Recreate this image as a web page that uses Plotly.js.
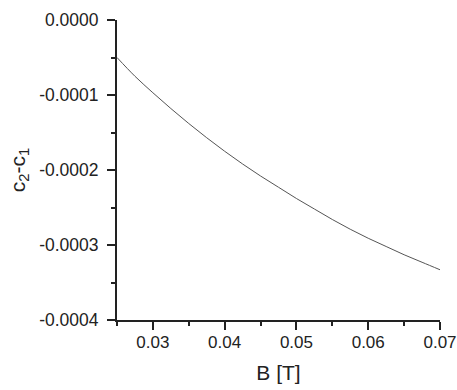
<!DOCTYPE html>
<html>
<head>
<meta charset="utf-8">
<script src="https://cdn.plot.ly/plotly-3.0.1.min.js"></script>
<style>html,body{margin:0;padding:0;background:#fff;}#chart{width:457px;height:390px;}</style>
</head>
<body>
<div id="chart"></div>
<script>
const bField = [0.025, 0.0275, 0.030, 0.0325, 0.035, 0.0375, 0.040, 0.0425, 0.045, 0.0475, 0.050, 0.0525, 0.055, 0.0575, 0.060, 0.0625, 0.065, 0.0675, 0.070];
const c2MinusC1 = [-0.000050, -0.000075, -0.000097, -0.000118, -0.000138, -0.000157, -0.000175, -0.000192, -0.000208, -0.000223, -0.000238, -0.000252, -0.000266, -0.000279, -0.000291, -0.000302, -0.000313, -0.000323, -0.000333];
const xTickVals = [0.03, 0.04, 0.05, 0.06, 0.07];
const xTickText = ["0.03", "0.04", "0.05", "0.06", "0.07"];
const yTickVals = [0, -0.0001, -0.0002, -0.0003, -0.0004];
const yTickText = ["0.0000", "-0.0001", "-0.0002", "-0.0003", "-0.0004"];

const font = "Liberation Sans, Arial, sans-serif";

Plotly.newPlot("chart", [{
  x: bField,
  y: c2MinusC1,
  mode: "lines",
  line: {color: "#555555", width: 1, shape: "spline"},
  showlegend: false,
  hoverinfo: "skip"
}], {
  width: 457, height: 390,
  margin: {l: 117, r: 17, t: 20, b: 70},
  paper_bgcolor: "#fff", plot_bgcolor: "#fff",
  font: {family: font, color: "#000"},
  xaxis: {
    range: [0.025, 0.07],
    tickvals: xTickVals, ticktext: xTickText,
    ticks: "outside", ticklen: 8, tickwidth: 2, tickcolor: "#222",
    minor: {dtick: 0.005, tick0: 0, ticks: "outside", ticklen: 4, tickwidth: 2, tickcolor: "#222", showgrid: false},
    showline: true, linewidth: 2, linecolor: "#222",
    showgrid: false, zeroline: false,
    ticklabelstandoff: -2,
    ticklabeloverflow: "allow",
    tickfont: {size: 17, family: font, color: "#222"},
    title: {text: "B [T]", font: {size: 21, family: font, color: "#222"}, standoff: 14}
  },
  yaxis: {
    range: [-0.0004, 0],
    tickvals: yTickVals, ticktext: yTickText,
    ticks: "outside", ticklen: 8, tickwidth: 2, tickcolor: "#222",
    minor: {dtick: 0.00005, tick0: 0, ticks: "outside", ticklen: 4, tickwidth: 2, tickcolor: "#222", showgrid: false},
    showline: true, linewidth: 2, linecolor: "#222",
    showgrid: false, zeroline: false,
    ticklabelstandoff: 5,
    ticklabeloverflow: "allow",
    tickfont: {size: 17.5, family: font, color: "#222"},
    title: {text: "c<sub>2</sub>-c<sub>1</sub>", font: {size: 21, family: font, color: "#222"}, standoff: 8}
  }
}, {displayModeBar: false, staticPlot: true});
</script>
</body>
</html>
